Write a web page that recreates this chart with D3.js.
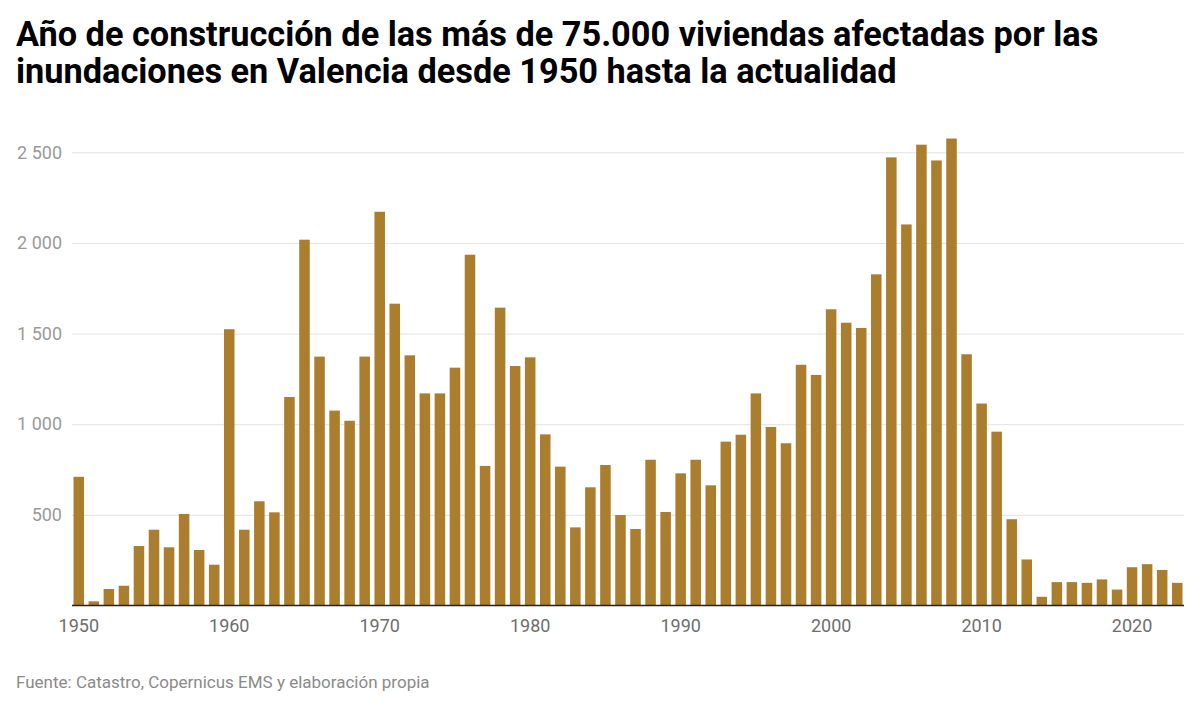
<!DOCTYPE html>
<html>
<head>
<meta charset="utf-8">
<script src="https://cdn.jsdelivr.net/npm/d3@7"></script>
<style>
    body { margin: 0; background: #fff; }
    .chart text { font-family: Roboto, "Noto Sans", sans-serif; }
    .y-axis .domain, .x-axis .domain { display: none; }
    .y-axis line { stroke: #e2e2e2; }
    .y-axis text { fill: #9a9a9a; font-size: 18px; }
    .x-axis line { display: none; }
    .x-axis text { fill: #6e6e6e; font-size: 18px; }
</style>
</head>
<body>
<div class="chart"></div>
<script>
// años de construcción y número de viviendas afectadas
var years = d3.range(1950, 2024);
var values = [
    710, 23, 91, 109, 328, 418, 321, 505, 306, 225,
    1524, 418, 575, 514, 1150, 2018, 1373, 1075, 1019, 1373,
    2172, 1665, 1380, 1170, 1170, 1312, 1935, 770, 1643, 1321,
    1369, 944, 766, 431, 652, 775, 499, 422, 804, 516,
    729, 804, 663, 904, 942, 1170, 985, 895, 1328, 1272,
    1634, 1560, 1531, 1827, 2472, 2102, 2542, 2455, 2576, 1386,
    1114, 959, 476, 254, 48, 129, 129, 125, 144, 88,
    211, 228, 196, 125
];
var yTicks = [0, 500, 1000, 1500, 2000, 2500];
var xTicks = [1950, 1960, 1970, 1980, 1990, 2000, 2010, 2020];

var titleLines = [
    'Año de construcción de las más de 75.000 viviendas afectadas por las',
    'inundaciones en Valencia desde 1950 hasta la actualidad'
];
var source = 'Fuente: Catastro, Copernicus EMS y elaboración propia';

var config = {
    w: 1200,
    h: 709,
    left: 72,
    right: 1184,
    top: 152.3,
    bottom: 605.5,
    barColor: '#ab7e2e'
};

var locale = d3.formatLocale({ decimal: ',', thousands: ' ', grouping: [3], currency: ['', '€'] });
var fmt = locale.format(',');

var svg = d3.select('.chart')
    .append('svg')
    .attr('width', config.w)
    .attr('height', config.h);

var xScale = d3.scaleBand()
    .domain(years)
    .range([config.left, config.right])
    .paddingInner(0.3)
    .paddingOuter(0.1);

var yScale = d3.scaleLinear()
    .domain([0, 2500])
    .range([config.bottom, config.top]);

// título
svg.append('text')
    .attr('x', 16)
    .attr('y', 46)
    .style('font-size', '34.3px')
    .style('font-weight', 700)
    .attr('fill', '#000')
    .selectAll('tspan')
    .data(titleLines)
    .enter()
    .append('tspan')
    .attr('x', 16)
    .attr('dy', function (d, i) { return i === 0 ? 0 : 37; })
    .text(function (d) { return d; });

// eje y con líneas de cuadrícula
var yAxis = d3.axisLeft(yScale)
    .tickValues(yTicks.filter(function (d) { return d > 0; }))
    .tickSize(-(config.right - config.left))
    .tickPadding(10)
    .tickFormat(fmt);

svg.append('g')
    .attr('class', 'y-axis')
    .attr('transform', 'translate(' + config.left + ',0)')
    .call(yAxis);

svg.selectAll('rect.bar')
    .data(values)
    .enter()
    .append('rect')
    .attr('class', 'bar')
    .attr('fill', config.barColor)
    .attr('x', function (d, i) { return xScale(years[i]); })
    .attr('width', xScale.bandwidth())
    .attr('y', function (d) { return yScale(d); })
    .attr('height', function (d) { return yScale(0) - yScale(d); });

// línea base
svg.append('line')
    .attr('x1', config.left)
    .attr('x2', config.right)
    .attr('y1', yScale(0))
    .attr('y2', yScale(0))
    .attr('stroke', '#222')
    .attr('stroke-width', 1.5);

var xAxis = d3.axisBottom(xScale)
    .tickValues(xTicks)
    .tickSize(0)
    .tickPadding(14);

svg.append('g')
    .attr('class', 'x-axis')
    .attr('transform', 'translate(0,' + yScale(0) + ')')
    .call(xAxis);

svg.append('text')
    .attr('x', 16)
    .attr('y', 688)
    .style('font-size', '17px')
    .attr('fill', '#8a8a8a')
    .text(source);
</script>
</body>
</html>
